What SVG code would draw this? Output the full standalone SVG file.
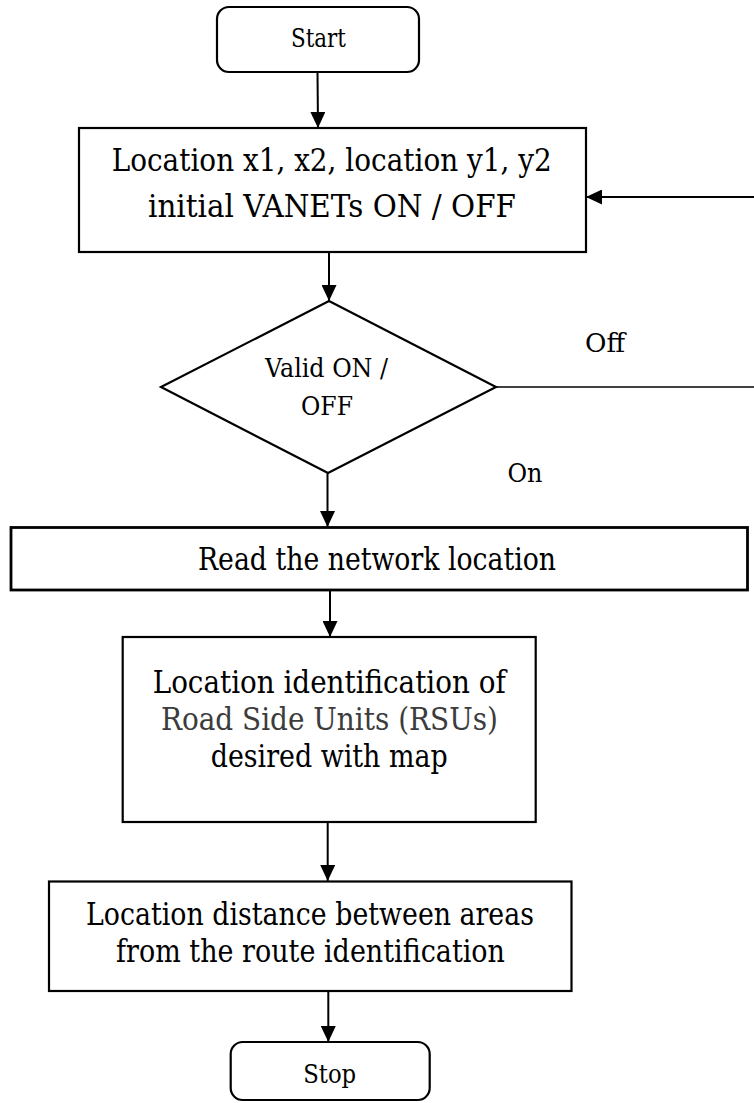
<svg xmlns="http://www.w3.org/2000/svg" width="754" height="1103" viewBox="0 0 754 1103">
  <defs>
    <marker id="arrow" markerUnits="userSpaceOnUse" markerWidth="16" markerHeight="15" viewBox="0 0 16 15" refX="16" refY="7.5" orient="auto">
      <path d="M0,0 L16,7.5 L0,15 Z" fill="#000"/>
    </marker>
    <style>
      .box { fill: #fff; stroke: #000; stroke-width: 2.2; }
      .term { fill: #fff; stroke: #000; stroke-width: 2.2; }
      text { font-family: 'DejaVu Serif', 'Liberation Serif', serif; fill: #000; text-anchor: middle; }
      .big { font-size: 31px; }
      .small { font-size: 26px; }
      .grey { fill: #3c3c3c; }
      .conn { stroke: #000; stroke-width: 2; fill: none; }
      .thin { stroke: #000; stroke-width: 1.4; fill: none; }
    </style>
  </defs>

  <!-- connectors -->
  <g id="connectors">
    <line class="conn" x1="317.5" y1="72" x2="318" y2="128" marker-end="url(#arrow)"/>
    <line class="conn" x1="329" y1="252" x2="329" y2="301" marker-end="url(#arrow)"/>
    <line class="conn" x1="327.5" y1="473" x2="327.5" y2="527" marker-end="url(#arrow)"/>
    <line class="conn" x1="330" y1="590" x2="330" y2="637" marker-end="url(#arrow)"/>
    <line class="conn" x1="327.7" y1="822" x2="327.7" y2="881" marker-end="url(#arrow)"/>
    <line class="conn" x1="328.3" y1="991" x2="328.3" y2="1042" marker-end="url(#arrow)"/>
    <!-- Off branch leaving the decision, and the return into the input step -->
    <line class="thin" x1="496" y1="387" x2="754" y2="387"/>
    <line class="conn" x1="754" y1="197" x2="586" y2="197" marker-end="url(#arrow)"/>
    <text class="small" x="605" y="352" textLength="40" lengthAdjust="spacingAndGlyphs">Off</text>
    <text class="small" x="525" y="482" textLength="35" lengthAdjust="spacingAndGlyphs">On</text>
  </g>

  <g id="start">
    <rect class="term" x="217" y="7" width="202" height="65" rx="12" ry="12"/>
    <text class="small" x="318.5" y="47" textLength="55" lengthAdjust="spacingAndGlyphs">Start</text>
  </g>

  <g id="input-locations">
    <rect class="box" x="79" y="128" width="507" height="124"/>
    <text class="big" x="331.7" y="171" textLength="440" lengthAdjust="spacingAndGlyphs">Location x1, x2, location y1, y2</text>
    <text class="big" x="332" y="217" textLength="368" lengthAdjust="spacingAndGlyphs">initial VANETs ON / OFF</text>
  </g>

  <g id="valid-check">
    <polygon class="box" points="329,301 496,387 328,473 161,387"/>
    <text class="small" x="326.5" y="377" textLength="123" lengthAdjust="spacingAndGlyphs">Valid ON /</text>
    <text class="small" x="327" y="415" textLength="52" lengthAdjust="spacingAndGlyphs">OFF</text>
  </g>

  <g id="read-network">
    <rect class="box" x="11" y="527.5" width="736.5" height="62.5" style="stroke-width:2.8"/>
    <text class="big" x="377" y="570" textLength="358" lengthAdjust="spacingAndGlyphs">Read the network location</text>
  </g>

  <g id="rsu-identification">
    <rect class="box" x="122.7" y="637" width="413" height="185"/>
    <text class="big" x="329.2" y="693" textLength="353" lengthAdjust="spacingAndGlyphs">Location identification of</text>
    <text class="big grey" x="329.4" y="730" textLength="337" lengthAdjust="spacingAndGlyphs">Road Side Units (RSUs)</text>
    <text class="big" x="329.2" y="767" textLength="237" lengthAdjust="spacingAndGlyphs">desired with map</text>
  </g>

  <g id="route-distance">
    <rect class="box" x="49" y="881.5" width="522.5" height="109.5"/>
    <text class="big" x="310" y="925" textLength="448" lengthAdjust="spacingAndGlyphs">Location distance between areas</text>
    <text class="big" x="310.5" y="962" textLength="389" lengthAdjust="spacingAndGlyphs">from the route identification</text>
  </g>

  <g id="stop">
    <rect class="term" x="230.7" y="1042" width="199" height="58" rx="12" ry="12"/>
    <text class="small" x="329.7" y="1083" textLength="53" lengthAdjust="spacingAndGlyphs">Stop</text>
  </g>
</svg>
